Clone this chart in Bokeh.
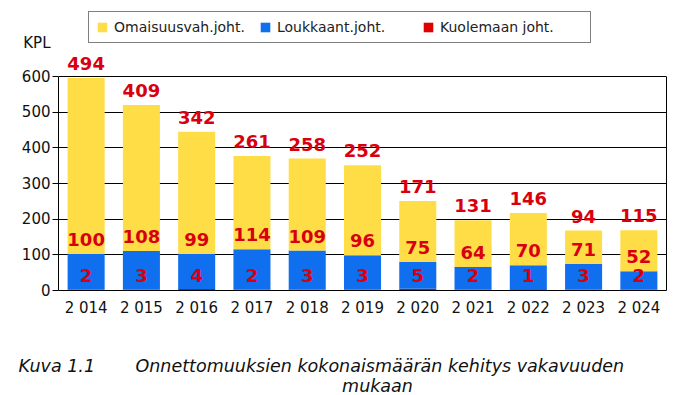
from bokeh.plotting import figure
from bokeh.models import (ColumnDataSource, LabelSet, Label, Legend, LegendItem,
                          FixedTicker, Range1d, FactorRange, LinearAxis)
from bokeh.core.properties import value
from bokeh.embed import file_html
from bokeh.resources import INLINE

# ---- data ----
years = ["2 014", "2 015", "2 016", "2 017", "2 018", "2 019",
         "2 020", "2 021", "2 022", "2 023", "2 024"]
omaisuusvah = [494, 409, 342, 261, 258, 252, 171, 131, 146, 94, 115]
loukkaant = [100, 108, 99, 114, 109, 96, 75, 64, 70, 71, 52]
kuolemaan = [2, 3, 4, 2, 3, 3, 5, 2, 1, 3, 2]
series_names = ["Omaisuusvah.joht.", "Loukkaant.joht.", "Kuolemaan joht."]
y_ticks = [0, 100, 200, 300, 400, 500, 600]
y_unit = "KPL"
caption_no = "Kuva 1.1"
caption_line1 = "Onnettomuuksien kokonaismäärän kehitys vakavuuden"
caption_line2 = "mukaan"

# ---- layout constants (pixels) ----
W, H = 687, 395
FRAME_L, FRAME_R, FRAME_B = 58, 666, 290     # plot box left/right/bottom
Y_MAX = 600                                  # top of the drawn plot box (value)
Y_MAX_PX = 76                                # pixel row of the box top
PX_PER_UNIT = (FRAME_B - Y_MAX_PX) / Y_MAX
Y_END = FRAME_B / PX_PER_UNIT                # range reaches the top of the canvas
Y_UNIT_POS = (FRAME_B - 42) / PX_PER_UNIT    # unit text row
N_CAT = len(years)
CAT_PX = (FRAME_R - FRAME_L) / N_CAT


def px_to_x(px):
    return (px - FRAME_L) / CAT_PX


def px_to_y(py):
    return (FRAME_B - py) / PX_PER_UNIT


YELLOW = "#FFDD47"
BLUE = "#0F6FEF"
RED = "#E00000"
LABEL_RED = "#D8000F"

blue_top = [k + l for k, l in zip(kuolemaan, loukkaant)]
total = [b + o for b, o in zip(blue_top, omaisuusvah)]

src = ColumnDataSource(dict(
    year=years,
    kuol=kuolemaan,
    louk=loukkaant,
    omai=omaisuusvah,
    blue_top=blue_top,
    total=total,
    zero=[0] * len(years),
    kuol_txt=[str(v) for v in kuolemaan],
    louk_txt=[str(v) for v in loukkaant],
    omai_txt=[str(v) for v in omaisuusvah],
))

p = figure(x_range=FactorRange(factors=years, range_padding=0),
           y_range=Range1d(0, Y_END),
           width=W, height=H, output_backend="svg", toolbar_location=None,
           title=None,
           min_border_left=FRAME_L, min_border_right=W - FRAME_R,
           min_border_top=0, min_border_bottom=H - FRAME_B)

p.background_fill_color = "white"
p.border_fill_color = "white"
p.outline_line_color = None

renderers = p.vbar_stack(["kuol", "louk", "omai"], x="year", width=0.67,
                         fill_color=[RED, BLUE, YELLOW], line_color=None,
                         source=src)

# inner left axis: line + ticks only, limited to the plot box
ya = p.yaxis[0]
ya.bounds = (0, Y_MAX)
ya.ticker = FixedTicker(ticks=y_ticks)
ya.minor_tick_line_color = None
ya.major_tick_out = 6
ya.major_tick_in = 0
ya.major_tick_line_color = "black"
ya.axis_line_color = "black"
ya.major_label_standoff = 0
ya.major_label_overrides = {t: "" for t in y_ticks}
ya.major_label_text_color = None

# outer left axis: tick labels and unit text
yb = LinearAxis(ticker=FixedTicker(ticks=y_ticks + [Y_UNIT_POS]),
                major_label_overrides={Y_UNIT_POS: y_unit})
yb.axis_line_color = None
yb.major_tick_line_color = None
yb.minor_tick_line_color = None
yb.major_label_standoff = -4
yb.major_label_text_font = "DejaVu Sans"
yb.major_label_text_font_size = "15px"
yb.major_label_text_color = "#111111"
p.add_layout(yb, "left")

# right border of the plot box
yr = LinearAxis(bounds=(0, Y_MAX), ticker=FixedTicker(ticks=[]))
yr.axis_line_color = "black"
yr.major_tick_line_color = None
yr.minor_tick_line_color = None
yr.major_label_text_color = None
yr.major_label_standoff = 0
p.add_layout(yr, "right")

p.xaxis.major_tick_line_color = None
p.xaxis.minor_tick_line_color = None
p.xaxis.axis_line_color = "black"
p.xaxis.major_label_standoff = 2
p.xaxis.major_label_text_font = "DejaVu Sans"
p.xaxis.major_label_text_font_size = "15px"
p.xaxis.major_label_text_color = "#111111"

p.xgrid.grid_line_color = None
p.ygrid.grid_line_color = "black"
p.ygrid.grid_line_width = 1
p.ygrid.ticker = FixedTicker(ticks=y_ticks)

# value labels
common = dict(source=src, x="year", text_align="center", text_baseline="alphabetic",
              text_font=value("DejaVu Sans"), text_font_style="bold",
              text_font_size="18px", text_color=LABEL_RED)
p.add_layout(LabelSet(y="total", text="omai_txt", y_offset=8, **common))
p.add_layout(LabelSet(y="blue_top", text="louk_txt", y_offset=8, **common))
p.add_layout(LabelSet(y="zero", text="kuol_txt", y_offset=9, **common))

# legend
legend = Legend(items=[LegendItem(label=series_names[0], renderers=[renderers[2]]),
                       LegendItem(label=series_names[1], renderers=[renderers[1]]),
                       LegendItem(label=series_names[2], renderers=[renderers[0]])],
                orientation="horizontal", location=(30, 247),
                glyph_width=12, glyph_height=12, label_height=12,
                label_width=143, label_standoff=6, spacing=2,
                padding=7, margin=0,
                label_text_font="DejaVu Sans", label_text_font_size="14px",
                label_text_color="#222222",
                border_line_color="black", border_line_width=1,
                background_fill_color="white", background_fill_alpha=1)
p.add_layout(legend, "center")

# caption below the chart
cap = dict(x_units="data", y_units="data", text_font="DejaVu Sans",
           text_font_style="italic", text_font_size="17.5px",
           text_baseline="alphabetic", text_color="#111111")
p.add_layout(Label(x=px_to_x(18), y=px_to_y(365), text=caption_no,
                   text_align="left", **cap), "below")
p.add_layout(Label(x=px_to_x(135), y=px_to_y(365), text=caption_line1,
                   text_align="left", **cap), "below")
p.add_layout(Label(x=px_to_x(377), y=px_to_y(385), text=caption_line2,
                   text_align="center", **cap), "below")

open("out.html", "w").write(file_html(p, INLINE))
